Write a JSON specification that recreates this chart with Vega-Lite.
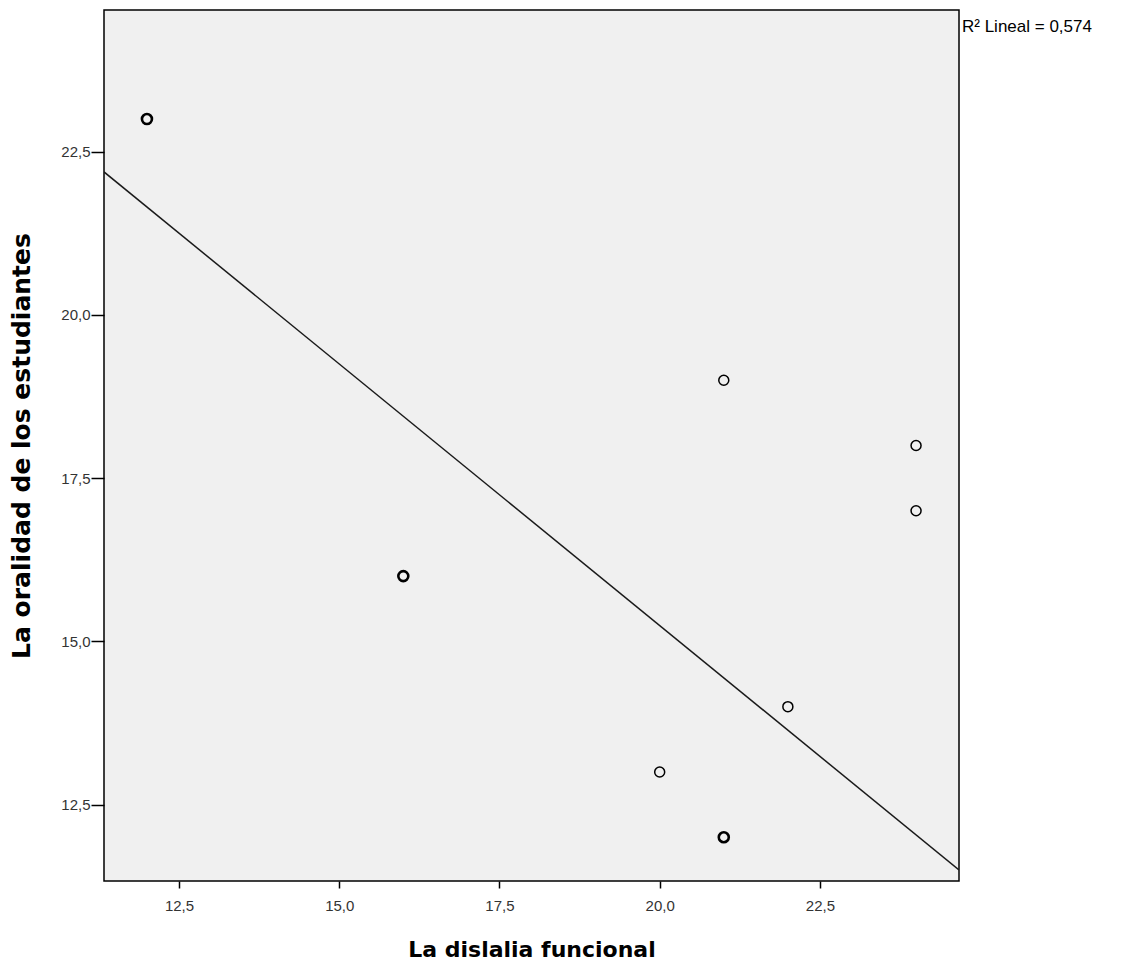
{
  "$schema": "https://vega.github.io/schema/vega-lite/v6.json",
  "width": 855,
  "height": 871,
  "autosize": {"type": "none"},
  "padding": {"left": 104, "top": 10, "right": 164, "bottom": 97},
  "background": "white",
  "config": {
    "view": {"fill": "#f0f0f0", "stroke": "#000000", "strokeWidth": 1.5},
    "axis": {
      "grid": false,
      "domain": false,
      "tickColor": "#000000",
      "tickWidth": 1.5,
      "labelFont": "Liberation Sans",
      "labelFontSize": 15,
      "labelColor": "#333333",
      "titleFont": "DejaVu Sans",
      "titleFontWeight": "bold",
      "titleColor": "#000000"
    }
  },
  "datasets": {
    "points": [
      {"dislalia": 12, "oralidad": 23, "n": 2},
      {"dislalia": 16, "oralidad": 16, "n": 2},
      {"dislalia": 20, "oralidad": 13, "n": 1},
      {"dislalia": 21, "oralidad": 19, "n": 1},
      {"dislalia": 21, "oralidad": 12, "n": 2},
      {"dislalia": 22, "oralidad": 14, "n": 1},
      {"dislalia": 24, "oralidad": 18, "n": 1},
      {"dislalia": 24, "oralidad": 17, "n": 1}
    ],
    "fit": [
      {"dislalia": 11.33, "oralidad": 22.19},
      {"dislalia": 24.67, "oralidad": 11.5}
    ],
    "note": [
      {"dislalia": 24.67, "oralidad": 24.41, "label": "R² Lineal = 0,574"}
    ]
  },
  "layer": [
    {
      "data": {"name": "fit"},
      "mark": {"type": "line", "color": "#1a1a1a", "strokeWidth": 1.5, "clip": true},
      "encoding": {
        "x": {
          "field": "dislalia", "type": "quantitative",
          "scale": {"domain": [11.33, 24.67], "nice": false, "zero": false},
          "axis": {
            "title": "La dislalia funcional",
            "titleFontSize": 22,
            "values": [12.5, 15, 17.5, 20, 22.5],
            "labelExpr": "replace(format(datum.value, '.1f'), '.', ',')",
            "tickSize": 7,
            "labelPadding": 10,
            "titlePadding": 26
          }
        },
        "y": {
          "field": "oralidad", "type": "quantitative",
          "scale": {"domain": [11.33, 24.67], "nice": false, "zero": false},
          "axis": {
            "title": "La oralidad de los estudiantes",
            "titleFontSize": 25,
            "values": [12.5, 15, 17.5, 20, 22.5],
            "labelExpr": "replace(format(datum.value, '.1f'), '.', ',')",
            "tickSize": 13,
            "labelPadding": 1,
            "titlePadding": 26
          }
        }
      }
    },
    {
      "data": {"name": "points"},
      "mark": {"type": "point", "shape": "circle", "filled": false, "size": 100, "color": "#000000", "opacity": 1},
      "encoding": {
        "x": {"field": "dislalia", "type": "quantitative"},
        "y": {"field": "oralidad", "type": "quantitative"},
        "strokeWidth": {
          "field": "n", "type": "quantitative",
          "scale": {"domain": [1, 2], "range": [1.5, 2.6]},
          "legend": null
        }
      }
    },
    {
      "data": {"name": "note"},
      "mark": {"type": "text", "align": "left", "baseline": "middle", "dx": 3, "font": "Liberation Sans", "fontSize": 17, "color": "#000000"},
      "encoding": {
        "x": {"field": "dislalia", "type": "quantitative"},
        "y": {"field": "oralidad", "type": "quantitative"},
        "text": {"field": "label"}
      }
    }
  ]
}
